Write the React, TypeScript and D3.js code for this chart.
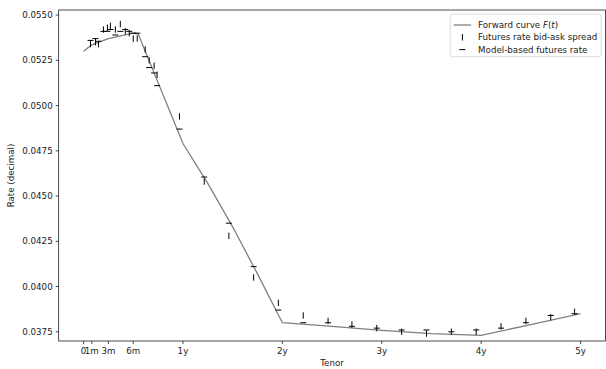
import React from "react";
import * as d3 from "d3";

// Forward curve knots (tenor in years, rate)
const curveT = [0, 0.083, 0.25, 0.5, 0.55, 1.0, 1.25, 1.5, 1.75, 2.0, 2.5, 3.0, 3.5, 4.0, 4.5, 5.0];
const curveV = [0.053, 0.05335, 0.0537, 0.054, 0.05395, 0.0479, 0.0457, 0.0433, 0.0407, 0.038, 0.0378, 0.03758, 0.0374, 0.0373, 0.0379, 0.0385];

// Futures contracts
const futT = [0.07, 0.12, 0.15, 0.2, 0.24, 0.27, 0.32, 0.37, 0.42, 0.46, 0.5, 0.54, 0.62, 0.66, 0.71, 0.74,
  0.965, 1.214, 1.462, 1.711, 1.96, 2.21, 2.46, 2.7, 2.95, 3.2, 3.45, 3.7, 3.95, 4.2, 4.45, 4.7, 4.94];
const bidAsk = [0.0534, 0.0535, 0.0534, 0.0542, 0.0543, 0.0544, 0.0542, 0.0545, 0.0541, 0.054, 0.0537, 0.0537, 0.0531, 0.0525, 0.0522, 0.0517,
  0.0494, 0.0458, 0.0428, 0.0405, 0.0391, 0.0384, 0.0381, 0.0379, 0.0377, 0.0375, 0.0374, 0.0375, 0.0375, 0.0378, 0.0381, 0.0383, 0.0386];
const modelRate = [0.0536, 0.0537, 0.05355, 0.0541, 0.0541, 0.0542, 0.0539, 0.0541, 0.0542, 0.0541, 0.054, 0.054, 0.0527, 0.0521, 0.0518, 0.0511,
  0.0487, 0.04605, 0.0435, 0.0411, 0.0387, 0.038, 0.038, 0.0378, 0.0377, 0.0376, 0.0376, 0.0375, 0.0376, 0.0377, 0.038, 0.0384, 0.0385];

const xTickVals = [0, 1 / 12, 0.25, 0.5, 1, 2, 3, 4, 5];
const xTickLabels = ["0", "1m", "3m", "6m", "1y", "2y", "3y", "4y", "5y"];
const yTickVals = [0.0375, 0.04, 0.0425, 0.045, 0.0475, 0.05, 0.0525, 0.055];

const W = 606, H = 369;
const L = 58.7, R = 605.4, T = 10, B = 341;
const FS = 8.7;
const FONT = "DejaVu Sans, sans-serif";

export default function App() {
  const x = d3.scaleLinear().domain([-0.25, 5.25]).range([L, R]);
  const y = d3.scaleLinear().domain([0.03699, 0.05528]).range([B, T]);
  const line = d3.line<number>().x((d, i) => x(curveT[i])).y((d) => y(d));

  const legW = 151, legRight = R - 4.2, legTop = 14.2, legH = 42.5;
  const legLeft = legRight - legW;
  const rowY = [25, 37.3, 49.6];
  const hx0 = legLeft + 3.5, hx1 = hx0 + 17.4, tx = hx1 + 7;

  return (
    <svg width={W} height={H} style={{ position: "absolute", left: 0, top: 0 }} fontFamily={FONT}>
      <rect x={0} y={0} width={W} height={H} fill="white" />
      <path d={line(curveV) || ""} fill="none" stroke="#808080" strokeWidth={1.3} />
      {futT.map((t, i) => (
        <line key={"b" + i} x1={x(t)} x2={x(t)} y1={y(bidAsk[i]) - 3.2} y2={y(bidAsk[i]) + 3.2} stroke="black" strokeWidth={1} />
      ))}
      {futT.map((t, i) => (
        <line key={"m" + i} x1={x(t) - 3} x2={x(t) + 3} y1={y(modelRate[i])} y2={y(modelRate[i])} stroke="black" strokeWidth={1} />
      ))}
      <rect x={L} y={T} width={R - L} height={B - T} fill="none" stroke="black" strokeWidth={0.7} />
      {xTickVals.map((v, i) => (
        <g key={"xt" + i}>
          <line x1={x(v)} x2={x(v)} y1={B} y2={B + 3} stroke="black" strokeWidth={0.7} />
          <text x={x(v)} y={B + 6 + FS * 0.76} fontSize={FS} textAnchor="middle" fill="#222">{xTickLabels[i]}</text>
        </g>
      ))}
      {yTickVals.map((v, i) => (
        <g key={"yt" + i}>
          <line x1={L - 3} x2={L} y1={y(v)} y2={y(v)} stroke="black" strokeWidth={0.7} />
          <text x={L - 6} y={y(v)} dy="0.35em" fontSize={FS} textAnchor="end" fill="#222">{d3.format(".4f")(v)}</text>
        </g>
      ))}
      <text x={(L + R) / 2} y={366} fontSize={FS} textAnchor="middle" fill="#222">Tenor</text>
      <text transform={`translate(11,${(T + B) / 2}) rotate(-90)`} fontSize={FS} textAnchor="middle" dy="0.35em" fill="#222">Rate (decimal)</text>
      <rect x={legLeft} y={legTop} width={legW} height={legH} rx={2} fill="white" fillOpacity={0.8} stroke="#cccccc" strokeWidth={0.7} />
      <line x1={hx0} x2={hx1} y1={rowY[0]} y2={rowY[0]} stroke="#808080" strokeWidth={1.3} />
      <line x1={(hx0 + hx1) / 2} x2={(hx0 + hx1) / 2} y1={rowY[1] - 3.2} y2={rowY[1] + 3.2} stroke="black" strokeWidth={1} />
      <line x1={(hx0 + hx1) / 2 - 3} x2={(hx0 + hx1) / 2 + 3} y1={rowY[2]} y2={rowY[2]} stroke="black" strokeWidth={1} />
      <text x={tx} y={rowY[0]} dy="0.35em" fontSize={FS} fill="#222">Forward curve <tspan fontStyle="italic">F</tspan>(<tspan fontStyle="italic">t</tspan>)</text>
      <text x={tx} y={rowY[1]} dy="0.35em" fontSize={FS} fill="#222">Futures rate bid-ask spread</text>
      <text x={tx} y={rowY[2]} dy="0.35em" fontSize={FS} fill="#222">Model-based futures rate</text>
    </svg>
  );
}
